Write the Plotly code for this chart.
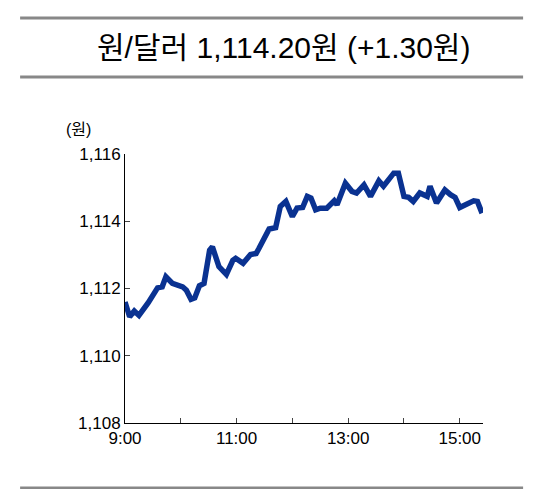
import plotly.graph_objects as go

# minutes after 9:00 and KRW/USD rate
minutes = [0, 5, 10, 15, 25, 35, 40, 44, 51, 62, 66, 71, 75, 80, 85, 91, 94, 101, 109, 116,
           119, 127, 135, 141, 144, 150, 155, 162, 167, 173, 180, 185, 191, 196, 200, 205,
           210, 217, 225, 228, 237, 244, 249, 257, 264, 273, 278, 289, 294, 300, 305, 310,
           317, 325, 328, 335, 344, 350, 355, 360, 367, 375, 379, 384]
rate = [1111.6, 1111.16, 1111.33, 1111.2, 1111.58, 1112.02, 1112.05, 1112.35, 1112.15, 1112.05,
        1111.95, 1111.68, 1111.72, 1112.08, 1112.15, 1113.14, 1113.24, 1112.65, 1112.42, 1112.84,
        1112.9, 1112.75, 1113.01, 1113.04, 1113.19, 1113.54, 1113.77, 1113.81, 1114.44, 1114.59,
        1114.14, 1114.39, 1114.41, 1114.74, 1114.69, 1114.34, 1114.39, 1114.39, 1114.61, 1114.49,
        1115.13, 1114.89, 1114.84, 1115.08, 1114.74, 1115.2, 1115.04, 1115.43, 1115.43, 1114.74,
        1114.71, 1114.59, 1114.84, 1114.74, 1115.04, 1114.54, 1114.93, 1114.79, 1114.71, 1114.41,
        1114.49, 1114.61, 1114.59, 1114.24]
x_ticks = [0, 60, 120, 180, 240, 300, 360]
x_labels = ["9:00", "", "11:00", "", "13:00", "", "15:00"]
y_ticks = [1108, 1110, 1112, 1114, 1116]
y_labels = ["1,108", "1,110", "1,112", "1,114", "1,116"]

fig = go.Figure(go.Scatter(x=minutes, y=rate, mode="lines",
                           line=dict(color="#0a3291", width=5.5)))

font = "Liberation Sans, Noto Sans CJK KR, sans-serif"
fig.update_xaxes(range=[0, 385], tickvals=x_ticks, ticktext=x_labels, ticks="inside",
                 ticklen=5, showline=True, linecolor="black", linewidth=1, showgrid=False,
                 zeroline=False, tickfont=dict(size=17, color="black"))
fig.update_yaxes(range=[1108, 1116], tickvals=y_ticks, ticktext=y_labels, ticks="inside",
                 ticklen=5, showline=True, linecolor="black", linewidth=1, showgrid=False,
                 zeroline=False, tickfont=dict(size=17, color="black"))

gray = dict(color="#888888", width=3)
shapes = [dict(type="line", xref="paper", yref="paper", x0=-0.293, x1=1.112, y0=yy, y1=yy, line=gray)
          for yy in [1.506, 1.286, -0.242]]

fig.update_layout(
    width=550, height=489, plot_bgcolor="white", paper_bgcolor="white",
    margin=dict(l=117, r=75, t=146, b=74), showlegend=False,
    font=dict(family=font, color="black"), shapes=shapes,
    annotations=[
        dict(text="원/달러 1,114.20원 (+1.30원)", xref="paper", yref="paper", x=0.442, y=1.395,
             showarrow=False, font=dict(size=30), xanchor="center", yanchor="middle"),
        dict(text="(원)", xref="paper", yref="paper", x=-0.09, y=1.09,
             showarrow=False, font=dict(size=16), xanchor="right", yanchor="middle"),
    ],
)
fig.write_html("out.html")
